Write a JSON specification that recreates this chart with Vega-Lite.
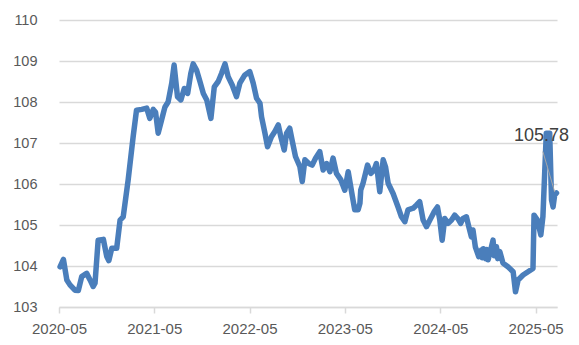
{
  "$schema": "https://vega.github.io/schema/vega-lite/v6.json",
  "width": 498,
  "height": 287,
  "autosize": {"type": "none"},
  "padding": {"left": 59, "top": 20, "right": 22, "bottom": 38},
  "background": "#ffffff",
  "config": {
    "view": {"stroke": null},
    "axis": {"labelFont": "Liberation Sans", "labelColor": "#595959", "labelFontSize": 14}
  },
  "datasets": {
    "series": [
      {"date": "2020-05-05", "value": 103.98},
      {"date": "2020-05-18", "value": 104.16},
      {"date": "2020-05-31", "value": 103.66},
      {"date": "2020-06-12", "value": 103.54},
      {"date": "2020-07-01", "value": 103.41},
      {"date": "2020-07-14", "value": 103.40},
      {"date": "2020-07-27", "value": 103.74},
      {"date": "2020-08-15", "value": 103.82},
      {"date": "2020-08-28", "value": 103.66},
      {"date": "2020-09-09", "value": 103.50},
      {"date": "2020-09-16", "value": 103.58},
      {"date": "2020-09-28", "value": 104.63},
      {"date": "2020-10-18", "value": 104.65},
      {"date": "2020-10-31", "value": 104.23},
      {"date": "2020-11-08", "value": 104.13},
      {"date": "2020-11-19", "value": 104.43},
      {"date": "2020-12-08", "value": 104.43},
      {"date": "2020-12-21", "value": 105.12},
      {"date": "2021-01-02", "value": 105.20},
      {"date": "2021-01-21", "value": 106.10},
      {"date": "2021-02-09", "value": 107.15},
      {"date": "2021-02-22", "value": 107.80},
      {"date": "2021-03-14", "value": 107.82},
      {"date": "2021-04-02", "value": 107.85},
      {"date": "2021-04-14", "value": 107.60},
      {"date": "2021-04-27", "value": 107.82},
      {"date": "2021-05-06", "value": 107.75},
      {"date": "2021-05-16", "value": 107.24},
      {"date": "2021-05-29", "value": 107.56},
      {"date": "2021-06-11", "value": 107.88},
      {"date": "2021-06-23", "value": 108.00},
      {"date": "2021-07-07", "value": 108.46},
      {"date": "2021-07-16", "value": 108.90},
      {"date": "2021-07-29", "value": 108.13},
      {"date": "2021-08-11", "value": 108.05},
      {"date": "2021-08-24", "value": 108.33},
      {"date": "2021-09-06", "value": 108.21},
      {"date": "2021-09-18", "value": 108.70},
      {"date": "2021-09-27", "value": 108.93},
      {"date": "2021-10-10", "value": 108.78},
      {"date": "2021-10-23", "value": 108.50},
      {"date": "2021-11-05", "value": 108.21},
      {"date": "2021-11-18", "value": 108.05},
      {"date": "2021-12-04", "value": 107.60},
      {"date": "2021-12-17", "value": 108.37},
      {"date": "2022-01-01", "value": 108.50},
      {"date": "2022-01-14", "value": 108.70},
      {"date": "2022-01-27", "value": 108.93},
      {"date": "2022-02-08", "value": 108.62},
      {"date": "2022-02-24", "value": 108.41},
      {"date": "2022-03-12", "value": 108.13},
      {"date": "2022-03-25", "value": 108.46},
      {"date": "2022-04-13", "value": 108.66},
      {"date": "2022-05-02", "value": 108.74},
      {"date": "2022-05-15", "value": 108.46},
      {"date": "2022-05-28", "value": 108.09},
      {"date": "2022-06-10", "value": 107.97},
      {"date": "2022-06-16", "value": 107.64},
      {"date": "2022-06-29", "value": 107.24},
      {"date": "2022-07-09", "value": 106.91},
      {"date": "2022-07-24", "value": 107.15},
      {"date": "2022-08-06", "value": 107.28},
      {"date": "2022-08-19", "value": 107.44},
      {"date": "2022-08-29", "value": 107.15},
      {"date": "2022-09-11", "value": 106.83},
      {"date": "2022-09-20", "value": 107.24},
      {"date": "2022-10-02", "value": 107.36},
      {"date": "2022-10-11", "value": 107.07},
      {"date": "2022-10-24", "value": 106.67},
      {"date": "2022-11-10", "value": 106.42},
      {"date": "2022-11-19", "value": 106.06},
      {"date": "2022-11-29", "value": 106.59},
      {"date": "2022-12-14", "value": 106.50},
      {"date": "2022-12-27", "value": 106.46},
      {"date": "2023-01-09", "value": 106.63},
      {"date": "2023-01-25", "value": 106.79},
      {"date": "2023-02-07", "value": 106.34},
      {"date": "2023-02-20", "value": 106.50},
      {"date": "2023-03-05", "value": 106.30},
      {"date": "2023-03-17", "value": 106.63},
      {"date": "2023-03-30", "value": 106.26},
      {"date": "2023-04-16", "value": 106.10},
      {"date": "2023-05-01", "value": 105.85},
      {"date": "2023-05-14", "value": 106.30},
      {"date": "2023-05-27", "value": 105.81},
      {"date": "2023-06-08", "value": 105.37},
      {"date": "2023-06-21", "value": 105.37},
      {"date": "2023-06-28", "value": 105.53},
      {"date": "2023-07-01", "value": 105.85},
      {"date": "2023-07-10", "value": 106.02},
      {"date": "2023-07-27", "value": 106.46},
      {"date": "2023-08-09", "value": 106.26},
      {"date": "2023-08-21", "value": 106.34},
      {"date": "2023-08-30", "value": 106.50},
      {"date": "2023-09-12", "value": 105.81},
      {"date": "2023-09-25", "value": 106.59},
      {"date": "2023-10-04", "value": 106.42},
      {"date": "2023-10-14", "value": 106.02},
      {"date": "2023-11-02", "value": 105.77},
      {"date": "2023-11-21", "value": 105.44},
      {"date": "2023-12-04", "value": 105.20},
      {"date": "2023-12-17", "value": 105.08},
      {"date": "2023-12-29", "value": 105.37},
      {"date": "2024-01-18", "value": 105.41},
      {"date": "2024-01-31", "value": 105.49},
      {"date": "2024-02-12", "value": 105.57},
      {"date": "2024-02-25", "value": 105.12},
      {"date": "2024-03-09", "value": 104.96},
      {"date": "2024-03-22", "value": 105.12},
      {"date": "2024-04-07", "value": 105.32},
      {"date": "2024-04-20", "value": 105.44},
      {"date": "2024-04-29", "value": 105.12},
      {"date": "2024-05-08", "value": 104.63},
      {"date": "2024-05-18", "value": 105.16},
      {"date": "2024-05-31", "value": 105.04},
      {"date": "2024-06-13", "value": 105.12},
      {"date": "2024-06-25", "value": 105.24},
      {"date": "2024-07-08", "value": 105.15},
      {"date": "2024-07-18", "value": 105.04},
      {"date": "2024-07-27", "value": 105.16},
      {"date": "2024-08-09", "value": 105.20},
      {"date": "2024-08-18", "value": 104.96},
      {"date": "2024-08-28", "value": 104.71},
      {"date": "2024-09-03", "value": 104.88},
      {"date": "2024-09-12", "value": 104.47},
      {"date": "2024-09-25", "value": 104.23},
      {"date": "2024-10-05", "value": 104.39},
      {"date": "2024-10-09", "value": 104.20},
      {"date": "2024-10-13", "value": 104.42},
      {"date": "2024-10-18", "value": 104.31},
      {"date": "2024-10-22", "value": 104.18},
      {"date": "2024-10-26", "value": 104.40},
      {"date": "2024-10-31", "value": 104.15},
      {"date": "2024-11-10", "value": 104.39},
      {"date": "2024-11-19", "value": 104.63},
      {"date": "2024-11-24", "value": 104.25},
      {"date": "2024-12-02", "value": 104.47},
      {"date": "2024-12-07", "value": 104.18},
      {"date": "2024-12-15", "value": 104.35},
      {"date": "2024-12-27", "value": 104.07},
      {"date": "2025-01-15", "value": 103.98},
      {"date": "2025-02-04", "value": 103.86},
      {"date": "2025-02-13", "value": 103.37},
      {"date": "2025-02-23", "value": 103.66},
      {"date": "2025-03-14", "value": 103.78},
      {"date": "2025-04-02", "value": 103.86},
      {"date": "2025-04-21", "value": 103.94},
      {"date": "2025-04-25", "value": 105.24},
      {"date": "2025-05-08", "value": 105.12},
      {"date": "2025-05-21", "value": 104.76},
      {"date": "2025-05-29", "value": 105.20},
      {"date": "2025-06-11", "value": 107.24},
      {"date": "2025-06-24", "value": 107.24},
      {"date": "2025-07-01", "value": 105.61},
      {"date": "2025-07-07", "value": 105.44},
      {"date": "2025-07-13", "value": 105.73},
      {"date": "2025-07-20", "value": 105.78}
    ],
    "leader": [
      {"date": "2025-05-29", "value": 106.79},
      {"date": "2025-07-13", "value": 105.81}
    ],
    "last": [
      {"date": "2025-07-20", "value": 105.78, "label": "105.78"}
    ]
  },
  "layer": [
    {
      "data": {"name": "series"},
      "mark": {"type": "line", "color": "#4a7ebb", "strokeWidth": 5.5, "strokeJoin": "round", "strokeCap": "round"},
      "encoding": {
        "x": {
          "field": "date", "type": "temporal",
          "scale": {"type": "utc", "domain": [{"year": 2020, "month": 5, "date": 1, "utc": true}, {"year": 2025, "month": 7, "date": 22, "utc": true}]},
          "axis": {
            "title": null, "grid": false,
            "values": [
              {"year": 2020, "month": 5, "date": 1, "utc": true},
              {"year": 2021, "month": 5, "date": 1, "utc": true},
              {"year": 2022, "month": 5, "date": 1, "utc": true},
              {"year": 2023, "month": 5, "date": 1, "utc": true},
              {"year": 2024, "month": 5, "date": 1, "utc": true},
              {"year": 2025, "month": 5, "date": 1, "utc": true}
            ],
            "format": "%Y-%m",
            "domainColor": "#d9d9d9", "domainWidth": 1.5,
            "tickColor": "#d9d9d9", "tickSize": 6, "tickWidth": 1.5,
            "labelPadding": 8, "labelFontSize": 15, "labelFlush": false
          }
        },
        "y": {
          "field": "value", "type": "quantitative",
          "scale": {"domain": [103, 110], "nice": false, "zero": false},
          "axis": {
            "title": null, "values": [103, 104, 105, 106, 107, 108, 109, 110], "format": "d",
            "domain": false, "ticks": false, "labelPadding": 22, "labelFontSize": 14.5,
            "gridColor": "#d9d9d9", "gridWidth": 1.5
          }
        }
      }
    },
    {
      "data": {"name": "leader"},
      "mark": {"type": "line", "color": "#a6a6a6", "strokeWidth": 1},
      "encoding": {
        "x": {"field": "date", "type": "temporal"},
        "y": {"field": "value", "type": "quantitative"}
      }
    },
    {
      "data": {"name": "last"},
      "mark": {"type": "text", "font": "Liberation Sans", "fontSize": 18, "color": "#404040", "dx": -15, "dy": -57, "align": "center", "baseline": "middle"},
      "encoding": {
        "x": {"field": "date", "type": "temporal"},
        "y": {"field": "value", "type": "quantitative"},
        "text": {"field": "label"}
      }
    }
  ]
}
